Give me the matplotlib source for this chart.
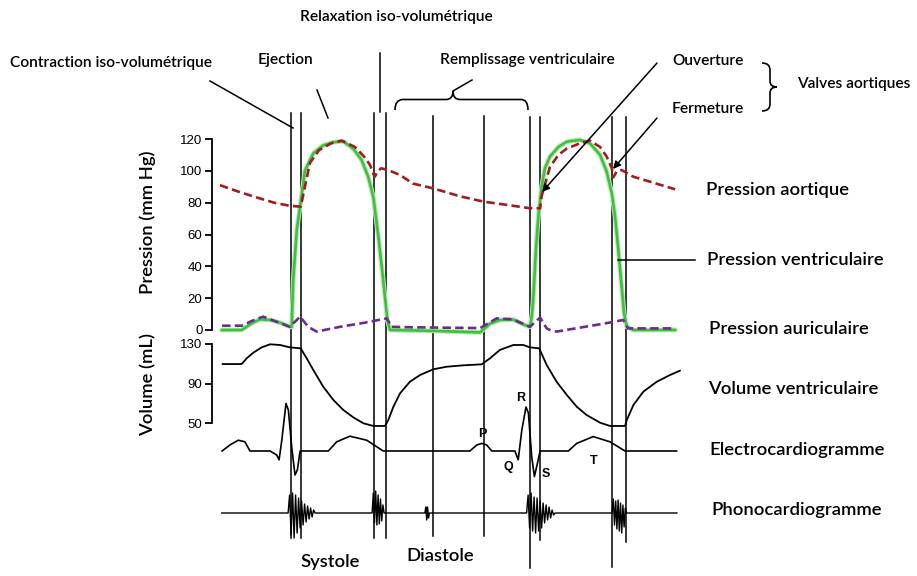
import matplotlib.pyplot as plt
from matplotlib.path import Path
from matplotlib.patches import PathPatch

# time axis in ms (one cardiac cycle ~ 800 ms)
events = [237, 269, 512, 555, 710, 880, 1033, 1067, 1307, 1353]

t_aortic = [0, 60, 120, 180, 233, 269, 272, 283, 300, 330, 370, 405, 450, 480, 500, 510, 516, 525,
            537, 560, 600, 643, 710, 800, 880, 960, 1033, 1067, 1072, 1078, 1100, 1128, 1156, 1200,
            1233, 1267, 1289, 1306, 1311, 1322, 1339, 1378, 1433, 1517]
p_aortic = [91, 87, 83.4, 80, 78, 77.5, 80, 90, 105, 113, 117.3, 119, 115, 109, 103.7, 98.6, 96.3, 99.5,
            101.6, 100.5, 97.4, 92, 89, 84, 80.6, 78.5, 76.5, 76.5, 84, 88, 102.6, 110, 114, 117.3,
            119, 115, 108.9, 101.6, 95.9, 99.5, 100.5, 96.3, 93.2, 88.4]

t_vent = [6, 72, 106, 133, 167, 200, 233, 239, 244, 256, 267, 283, 311, 344, 378, 411, 444, 472, 494,
          511, 528, 544, 558, 567, 700, 867, 900, 933, 978, 1011, 1033, 1039, 1044, 1053, 1061, 1072,
          1083, 1100, 1128, 1156, 1200, 1233, 1267, 1289, 1306, 1317, 1328, 1339, 1347, 1356, 1378, 1517]
p_vent = [0, 0, 4.2, 6.7, 6.3, 4.6, 2.1, 2, 31, 63, 77.5, 100, 111, 116, 118, 118.5, 114, 106.8, 96.3,
          83.7, 58.6, 31.4, 6.3, 0, -0.5, -1.5, 4, 6.3, 6.5, 3.5, 2, 8, 18.8, 50, 71, 90,
          101.6, 109, 115, 118.3, 119.4, 117.3, 110, 99.5, 86, 71.2, 50, 27, 10.5, 2, 0, 0]

t_atrium = [7, 72, 110, 144, 189, 233, 267, 294, 322, 400, 480, 556, 572, 643, 867, 922, 977, 1033,
            1067, 1089, 1100, 1122, 1200, 1280, 1344, 1360, 1517]
p_atrium = [2.7, 2.7, 6, 8.4, 5.2, 2, 8.4, 2, -1, 2, 4.5, 7.3, 2, 1.7, 1.2, 7.3, 6.7, 2,
            7.8, 1, 0, -1, 1.5, 4, 6.3, 1, 1]

t_volume = [9, 72, 89, 111, 139, 167, 200, 233, 269, 289, 311, 344, 378, 411, 444, 478, 511, 550, 561,
            578, 600, 633, 667, 711, 756, 811, 872, 900, 933, 978, 1011, 1033, 1064, 1089, 1122, 1156,
            1189, 1222, 1267, 1300, 1350, 1356, 1378, 1411, 1456, 1500, 1533]
v_volume = [109.7, 109.7, 115.5, 121.2, 126.6, 129.7, 129, 126.6, 125.6, 115.5, 103.7, 86.8, 73.3, 63.2,
            55.8, 49.7, 47, 47, 53, 66.5, 80, 91.8, 98.6, 104.4, 107, 108.4, 109.4, 115.5, 124, 129,
            129, 126.6, 125.6, 108.7, 91.8, 78.4, 66.5, 58.1, 50.3, 47, 47, 53, 68.2, 81.7, 91.8, 98.6, 103]

t_ecg = [7, 33, 61, 83, 100, 167, 189, 197, 206, 220, 228, 239, 250, 258, 267, 361, 389, 433, 489, 544,
         833, 856, 872, 889, 906, 983, 994, 1006, 1020, 1028, 1039, 1048, 1058, 1067, 1161, 1189, 1244,
         1300, 1350, 1522]
ecg_mv = [0, 0.15, 0.27, 0.23, 0, 0, -0.1, -0.22, 0.27, 1.19, 1.02, 0.1, -0.6, -0.47, 0, 0, 0.23, 0.37,
          0.27, 0, 0, 0.15, 0.19, 0.15, 0, 0, -0.22, 0.52, 1.1, 0.95, -0.14, -0.64, -0.31, 0, 0, 0.19,
          0.36, 0.23, 0, 0]

t_phono = ([6]
           + [227, 232, 237, 242, 247, 252, 257, 262, 267, 272, 277, 282, 287, 292, 297, 302, 307, 312, 317]
           + [507, 511, 515, 519, 523, 527, 531, 535, 539, 543, 547]
           + [683, 686, 689, 692, 695, 698]
           + [1022, 1027, 1032, 1037, 1042, 1047, 1052, 1057, 1062, 1067, 1072, 1077, 1082, 1087, 1092,
              1097, 1102, 1107, 1112, 1117]
           + [1307, 1311, 1315, 1319, 1323, 1327, 1331, 1335, 1339, 1343, 1347, 1351, 1355]
           + [1523])
phono = ([0]
         + [0, 18, -22, 20, -25, 18, -20, 15, -15, 12, -12, 9, -9, 7, -6, 5, -4, 3, 0]
         + [0, 20, -10, 22, -12, 18, -11, 14, -8, 8, 0]
         + [0, 6, -7, 6, -5, 0]
         + [0, 18, -15, 20, -18, 16, -20, 15, -18, 12, -15, 10, -10, 8, -7, 6, -5, 3, -2, 0]
         + [0, 14, -12, 12, -16, 13, -18, 10, -20, 8, -14, 5, 0]
         + [0])

pressure_ticks = [0, 20, 40, 60, 80, 100, 120]
volume_ticks = [50, 90, 130]

W, H = 917, 576
X0, X1 = -733.3, 2323.3
fig = plt.figure(figsize=(W / 100, H / 100), dpi=100)
font = ["Lato", "DejaVu Sans"]


def make_axes(va, pa, vb, pb):
    # full-figure axes where value va sits at pixel row pa and vb at pb
    ax = fig.add_axes([0, 0, 1, 1])
    ax.patch.set_alpha(0)
    scale = (va - vb) / (pb - pa)
    ax.set_ylim(va - (H - pa) * scale, va + pa * scale)
    ax.set_xlim(X0, X1)
    for s in ax.spines.values():
        s.set_visible(False)
    ax.set_xticks([])
    ax.set_yticks([])
    return ax


def left_scale(ax, ticks):
    sp = ax.spines["left"]
    sp.set_visible(True)
    sp.set_position(("axes", 211.5 / W))
    sp.set_bounds(ticks[0], ticks[-1])
    sp.set_linewidth(1.3)
    ax.set_yticks(ticks)
    ax.tick_params(axis="y", direction="out", length=5, width=1.3, pad=1.5, labelsize=9.5)
    for lb in ax.get_yticklabels():
        lb.set_family("Liberation Sans")


ax_ev = make_axes(0, 0, H, H)
ax_p = make_axes(0, 330, 120, 139)
ax_v = make_axes(130, 344, 50, 423)
ax_e = make_axes(0, 451, 1, 411)
ax_s = make_axes(0, 513, 1, 512)
ax_n = fig.add_axes([0, 0, 1, 1])
ax_n.set_xlim(0, W)
ax_n.set_ylim(H, 0)
ax_n.axis("off")

# event lines
tops = [113, 113, 113, 113, 116, 116, 117, 117, 117, 117]
bottoms = [538, 538, 538, 538, 536, 536, 568, 540, 567, 542]
for t, y0, y1 in zip(events, tops, bottoms):
    ax_ev.plot([t, t], [y0, y1], color="black", lw=1.1)

left_scale(ax_p, pressure_ticks)
left_scale(ax_v, volume_ticks)

ax_p.plot(t_vent, p_vent, color="#b5e8ad", lw=3.4, solid_capstyle="round")
ax_p.plot(t_vent, p_vent, color="#3cc23c", lw=1.9)
ax_p.plot(t_aortic, p_aortic, color="#a31b1e", lw=1.9, dashes=(3.2, 1.6))
ax_p.plot(t_atrium, p_atrium, color="#6a2d8f", lw=1.9, dashes=(3.2, 1.6))
ax_v.plot(t_volume, v_volume, color="black", lw=1.3)
ax_e.plot(t_ecg, ecg_mv, color="black", lw=1.2)
ax_s.plot(t_phono, phono, color="black", lw=1.0)

# labels
big = dict(family=font, fontsize=13.3, va="center", ha="left", fontweight="semibold")
small = dict(family=font, fontsize=11.2, va="center", ha="left", fontweight="semibold")
ax_n.text(706, 190, "Pression aortique", **big)
ax_n.text(707, 260, "Pression ventriculaire", **big)
ax_n.text(709, 329, "Pression auriculaire", **big)
ax_n.text(708, 389, "Volume ventriculaire", **big)
ax_n.text(709, 450, "Electrocardiogramme", **big)
ax_n.text(711, 510, "Phonocardiogramme", **big)
ax_n.text(148, 222, "Pression (mm Hg)", rotation=90, **dict(big, ha="center"))
ax_n.text(148, 385, "Volume (mL)", rotation=90, **dict(big, ha="center"))
ax_n.text(330, 562, "Systole", **dict(big, ha="center"))
ax_n.text(440, 556, "Diastole", **dict(big, ha="center"))

ax_n.text(396, 17, "Relaxation iso-volumétrique", **dict(small, ha="center"))
ax_n.text(10, 63, "Contraction iso-volumétrique", **small)
ax_n.text(258, 60, "Ejection", **small)
ax_n.text(440, 60, "Remplissage ventriculaire", **small)
ax_n.text(672, 61, "Ouverture", **small)
ax_n.text(672, 109, "Fermeture", **small)
ax_n.text(797, 84, "Valves aortiques", **small)

wave = dict(family="Liberation Sans", fontsize=9, fontweight="bold", ha="center", va="center")
for txt, x, y in [("P", 482, 434), ("Q", 508, 467), ("R", 521, 398), ("S", 546, 474), ("T", 594, 461)]:
    ax_n.text(x, y, txt, **wave)

# pointers
ax_n.plot([210, 293], [81, 128], color="black", lw=1.1)
ax_n.plot([317, 328], [90, 118], color="black", lw=1.1)
ax_n.plot([380, 380], [53, 112], color="black", lw=1.1)
ax_n.plot([618, 695], [260, 260], color="black", lw=1.1)
ax_n.plot([453, 472], [91, 80], color="black", lw=1.1)
arrow = dict(arrowstyle="-|>", color="black", lw=1.1, mutation_scale=11, shrinkA=0, shrinkB=0)
ax_n.annotate("", xy=(542, 192), xytext=(657, 63), arrowprops=arrow)
ax_n.annotate("", xy=(613, 169), xytext=(657, 118), arrowprops=arrow)

# braces
C3, L, M = Path.CURVE3, Path.LINETO, Path.MOVETO
fill_brace = Path([(395, 110), (395, 99.5), (403, 99.5), (446, 99.5), (453, 99.5), (453, 91),
                   (453, 99.5), (460, 99.5), (521, 99.5), (528, 99.5), (528, 110)],
                  [M, C3, C3, L, C3, C3, C3, C3, L, C3, C3])
valve_brace = Path([(762, 63), (770, 63), (770, 70), (770, 81), (770, 87), (777, 87),
                    (770, 87), (770, 93), (770, 104), (770, 111), (762, 111)],
                   [M, C3, C3, L, C3, C3, C3, C3, L, C3, C3])
for pth in (fill_brace, valve_brace):
    ax_n.add_patch(PathPatch(pth, fill=False, lw=1.2, color="black"))

fig.savefig("out.png", dpi=100)
